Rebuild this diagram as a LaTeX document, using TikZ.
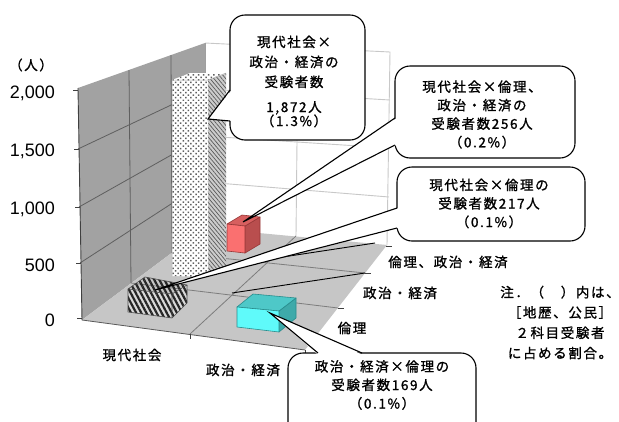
\documentclass[tikz,border=0pt]{standalone}
\usepackage{fontspec}
\setmainfont{Liberation Sans}
\newfontfamily\jpfont{Noto Sans CJK JP}[LetterSpace=12,FakeBold=1.2]
\usetikzlibrary{patterns.meta}
\definecolor{wallL}{RGB}{162,162,162}
\definecolor{floorC}{RGB}{198,198,198}
\definecolor{gridL}{RGB}{95,95,95}
\definecolor{gridB}{RGB}{200,200,200}
\definecolor{gridF}{RGB}{125,125,125}
\definecolor{redF}{RGB}{250,112,112}
\definecolor{redT}{RGB}{215,95,95}
\definecolor{redR}{RGB}{185,78,78}
\definecolor{redE}{RGB}{150,55,55}
\definecolor{cyF}{RGB}{95,250,250}
\definecolor{cyT}{RGB}{78,200,200}
\definecolor{cyR}{RGB}{62,170,170}
\definecolor{cyE}{RGB}{40,140,140}
\begin{document}
\begin{tikzpicture}[x=1pt,y=-1pt,
 jp/.style={font=\jpfont\fontsize{13.5}{18.5}\selectfont,inner sep=0pt,align=center},
 num/.style={font=\fontsize{18}{18}\selectfont,anchor=base east,inner sep=0pt},
 callout/.style={draw,fill=white,line width=1.1pt,rounded corners=15pt,inner sep=0pt},
 tailline/.style={line width=1.1pt,line join=miter},
 lwgrid/.style={draw=gridL,line width=0.8pt},
 bwgrid/.style={draw=gridB,line width=0.9pt},
 flgrid/.style={draw=gridF,line width=0.8pt},
 axisline/.style={draw=black!75,line width=0.9pt},
 boxedge/.style={line width=0.6pt,line join=round},
 leader/.style={draw=black,line width=0.9pt},
 dotpat/.style={pattern={Dots[distance=3.6pt,radius=1.05pt,angle=45]},pattern color=gray!75!black}]
\useasboundingbox (0,0) rectangle (619,421);
\clip (0,0) rectangle (619,421);

% ---- walls and floor
\fill[wallL] (78,88) -- (205,43) -- (205,228) -- (82,320) -- cycle;
\fill[white] (205,43) -- (390,52) -- (387,245) -- (205,228) -- cycle;
\draw[bwgrid] (205,43) -- (390,52) -- (387,245);
\fill[floorC] (82,320) -- (205,228) -- (387,245) -- (305,350) -- cycle;

% left wall grid
\draw[lwgrid] (80,263) -- (205,182);
\draw[lwgrid] (79,207) -- (205,136);
\draw[lwgrid] (78,149) -- (205,89);
\draw[lwgrid] (129,70) -- (131,283);
\draw[lwgrid] (171,55) -- (172,253);
\draw[draw=gridL!60,line width=0.8pt] (205,43) -- (205,228);
% back wall grid
\draw[bwgrid] (205,182) -- (389,197);
\draw[bwgrid] (205,136) -- (389,148);
\draw[bwgrid] (205,89) -- (390,100);
\draw[bwgrid] (298,47) -- (296,236);
% floor grid
\draw[flgrid] (190,334) -- (296,236);
\draw[flgrid] (131,283) -- (338,308);
\draw[flgrid] (172,253) -- (365,273);

% axes
\draw[axisline] (78,88) -- (82,320);
\foreach \yy/\xx in {90/78,149/79,207/80,263/81,318/82}
  \draw[axisline] (\xx-5,\yy) -- (\xx,\yy);
\draw[draw=gray!70!black,line width=0.8pt] (82,320) -- (305,350);
\draw[axisline] (190,334) -- (190,339);
\draw[axisline] (305,350) -- (305,355);
\draw[axisline] (338,308) -- (344,308);
\draw[axisline] (365,273) -- (371,273);
\draw[axisline] (386,246) -- (392,246);

% ---- red box (back row)
\filldraw[fill=redR,draw=redE,boxedge] (245,226) -- (260,217) -- (260,244) -- (245,253) -- cycle;
\filldraw[fill=redT,draw=redE,boxedge] (227,224) -- (245,226) -- (260,217) -- (242,215) -- cycle;
\filldraw[fill=redF,draw=redE,boxedge] (227,224) -- (245,226) -- (245,253) -- (227,251) -- cycle;
\coordinate (tipB) at (243,222);

% ---- tall column
\fill[gray!40] (208,80) -- (226,73) -- (226,268) -- (208,277) -- cycle;
\fill[pattern={Lines[angle=-50,distance=3pt,line width=0.7pt]},pattern color=black!65] (208,80) -- (226,73) -- (226,268) -- (208,277) -- cycle;
\fill[white] (172,80) -- (208,80) -- (226,73) -- (190,73) -- cycle;
\fill[dotpat] (172,80) -- (208,80) -- (226,73) -- (190,73) -- cycle;
\fill[white] (172,80) -- (208,80) -- (208,277) -- (172,276) -- cycle;
\fill[dotpat] (172,80) -- (208,80) -- (208,277) -- (172,276) -- cycle;
\draw[gray!60,line width=0.5pt] (172,276) -- (172,80) -- (208,80) -- (226,73);
\coordinate (tipA) at (208,119);

% ---- hatched box (front row, col 1)
\fill[gray!30] (128,289) -- (172,294) -- (187,285) -- (187,303) -- (172,318) -- (128,312) -- cycle;
\fill[pattern={Lines[angle=-62,distance=4.5pt,line width=2.2pt]},pattern color=black!85] (128,289) -- (172,294) -- (187,285) -- (145,277) -- cycle;
\fill[pattern={Lines[angle=-62,distance=4.5pt,line width=2.2pt]},pattern color=black!85] (128,289) -- (172,294) -- (172,318) -- (128,312) -- cycle;
\fill[pattern={Lines[angle=-62,distance=4.5pt,line width=2.2pt]},pattern color=black!85] (172,294) -- (187,285) -- (187,303) -- (172,318) -- cycle;
\draw[black!70,boxedge] (128,289) -- (172,294) -- (187,285) -- (145,277) -- cycle;
\draw[black!70,boxedge] (172,294) -- (172,318) (128,289) -- (128,312) -- (172,318) -- (187,303) -- (187,285);
\coordinate (tipC) at (155,290);

% ---- cyan box (front row, col 2)
\filldraw[fill=cyR,draw=cyE,boxedge] (279,311) -- (296,298) -- (296,318) -- (279,332) -- cycle;
\filldraw[fill=cyT,draw=cyE,boxedge] (237,307) -- (279,311) -- (296,298) -- (253,294) -- cycle;
\filldraw[fill=cyF,draw=cyE,boxedge] (237,307) -- (279,311) -- (279,332) -- (237,327) -- cycle;
\coordinate (tipD) at (270,313);

% ---- leaders from depth axis
\coordinate (dk3) at (375,243);
\coordinate (dr3) at (263,260);
\coordinate (dk2) at (365,273);
\coordinate (dr2) at (232,293);
\draw[leader] (dk3) -- (dr3);
\draw[leader] (dk2) -- (dr2);

% ---- axis labels
\node[num] (y2000) at (55,98.5) {2,000};
\node[num] (y1500) at (55,156.5) {1,500};
\node[num] (y1000) at (55,214.5) {1,000};
\node[num] (y500) at (55,271.5) {500};
\node[num] (y0) at (55,326.5) {0};
\node[jp] (unit) at (31,65) {（人）};
\node[jp] (xa) at (132,355) {現代社会};
\node[jp] (xb) at (243,370) {政治・経済};
\node[jp] (za) at (448,262) {倫理、政治・経済};
\node[jp] (zb) at (400,293) {政治・経済};
\node[jp] (zc) at (352,328) {倫理};
\node[jp,font=\jpfont\fontsize{13.5}{20.3}\selectfont] (note) at (560,322.5)
  {注．（　）内は、\\［地歴、公民］\\２科目受験者\\に占める割合。};

% ---- callout A
\node[callout,minimum width=135pt,minimum height=125pt] (cA) at (297.5,77.5) {};
\node[jp,font=\jpfont\fontsize{13.5}{20}\selectfont] (tA) at (294,81.5)
  {現代社会×\\政治・経済の\\受験者数\\[5pt]1,872人\\[-6pt]（1.3\%）};
\coordinate (a1) at (230,90);
\coordinate (a2) at (230,121);
\fill[white] (tipA) -- ([xshift=1.6pt]a1) -- ([xshift=1.6pt]a2) -- cycle;
\draw[tailline] (a1) -- (tipA) -- (a2);

% ---- callout B
\node[callout,minimum width=180pt,minimum height=92pt] (cB) at (485,112) {};
\node[jp] (tB) at (482,114.5) {現代社会×倫理、\\政治・経済の\\受験者数256人\\（0.2\%）};
\coordinate (b1) at (395,118);
\coordinate (b2) at (395,145);
\fill[white] (tipB) -- ([xshift=1.6pt]b1) -- ([xshift=1.6pt]b2) -- cycle;
\draw[tailline] (b1) -- (tipB) -- (b2);

% ---- callout C
\node[callout,minimum width=188pt,minimum height=74pt] (cC) at (491,204) {};
\node[jp] (tC) at (489,203.5) {現代社会×倫理の\\受験者数217人\\（0.1\%）};
\coordinate (c1) at (397,208);
\coordinate (c2) at (397,228);
\fill[white] (tipC) -- ([xshift=1.6pt]c1) -- ([xshift=1.6pt]c2) -- cycle;
\draw[tailline] (c1) -- (tipC) -- (c2);

% ---- callout D
\node[callout,minimum width=188pt,minimum height=94pt] (cD) at (382,400) {};
\node[jp] (tD) at (382,385) {政治・経済×倫理の\\受験者数169人\\（0.1\%）};
\coordinate (d1) at (318,353);
\coordinate (d2) at (362,353);
\fill[white] (tipD) -- ([yshift=-1.6pt]d1) -- ([yshift=-1.6pt]d2) -- cycle;
\draw[tailline] (d1) -- (tipD) -- (d2);
\end{tikzpicture}
\end{document}
